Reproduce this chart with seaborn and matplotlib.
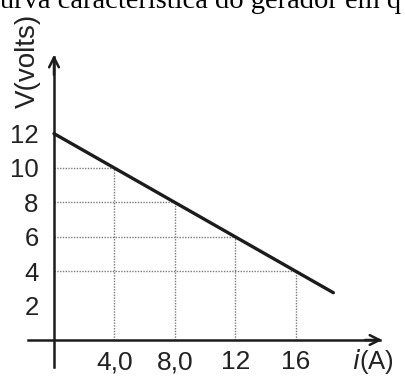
import matplotlib
matplotlib.use("Agg")
import matplotlib.pyplot as plt
import seaborn as sns
import pandas as pd

# dados (curva característica do gerador)
corrente = [0, 4, 8, 12, 16, 18.5]       # i (A)
tensao = [12, 10, 8, 6, 4, 2.75]         # V (volts)
pontos_x = [4, 8, 12, 16]                # pontos marcados com linha pontilhada
pontos_y = [10, 8, 6, 4]
ticks_y = [2, 4, 6, 8, 10, 12]
ticks_x = [4, 8, 12, 16]
rotulos_x = ["4,0", "8,0", "12", "16"]

sns.set_style("white")
plt.rcParams["font.family"] = ["Liberation Sans", "DejaVu Sans"]

W, H = 406, 376
fig = plt.figure(figsize=(W / 100, H / 100), dpi=100)
ax = fig.add_axes([0, 0, 1, 1])

# escala em pixels: origem em (54, 340), 15.1 px por A, 17.2 px por V
ox, oy, sx, sy = 54, 340, 15.1, 17.2
ax.set_xlim(-ox / sx, (W - ox) / sx)
ax.set_ylim((oy - H) / sy, oy / sy)

cor = "#1c1c1c"

# linhas pontilhadas até a reta
for px, py in zip(pontos_x, pontos_y):
    ax.plot([0, px], [py, py], ls=(0, (1, 1)), color="#7a7a7a", lw=1.0, zorder=1)
    ax.plot([px, px], [0, py], ls=(0, (1, 1)), color="#7a7a7a", lw=1.0, zorder=1)

df = pd.DataFrame({"i": corrente, "V": tensao})
sns.lineplot(data=df, x="i", y="V", color=cor, lw=2.4, ax=ax, zorder=3)

# eixos com setas
for s in ["top", "right"]:
    ax.spines[s].set_visible(False)
ax.spines["left"].set_position(("data", 0))
ax.spines["bottom"].set_position(("data", 0))
x_fim, y_fim = (385 - ox) / sx, (oy - 52) / sy
ax.spines["bottom"].set_bounds((28 - ox) / sx, x_fim - 0.3)
ax.spines["left"].set_bounds((oy - 367) / sy, y_fim - 0.3)
for s in ["left", "bottom"]:
    ax.spines[s].set_color(cor)
    ax.spines[s].set_linewidth(1.8)
ax.annotate("", xy=(x_fim, 0), xytext=(x_fim - 1.5, 0),
            arrowprops=dict(arrowstyle="->,head_length=0.7,head_width=0.35", color=cor, lw=1.8))
ax.annotate("", xy=(0, y_fim), xytext=(0, y_fim - 1.5),
            arrowprops=dict(arrowstyle="->,head_length=0.7,head_width=0.35", color=cor, lw=1.8))

ax.set_xticks(ticks_x)
ax.set_xticklabels(rotulos_x)
ax.set_yticks(ticks_y)
ax.set_yticklabels([str(t) for t in ticks_y])
ax.tick_params(axis="both", direction="inout", length=13, width=1.5, color=cor, labelcolor="#222222")
ax.tick_params(axis="y", pad=4.5, labelsize=18.5)
ax.tick_params(axis="x", pad=1, labelsize=19)
ax.set_xlabel("")
ax.set_ylabel("")
ax.grid(False)

# rótulos dos eixos
fig.text(28 / W, 1 - 61 / H, "V(volts)", rotation=90, ha="center", va="center",
         fontsize=20, color="#222222")
fig.text(352 / W, 1 - 347 / H, r"$\mathit{i}$(A)", ha="left", va="top",
         fontsize=18.5, color="#222222")

# texto do enunciado, cortado no topo como na imagem original
fig.text(0, 1 - 8 / H, "urva característica do gerador em q", ha="left", va="baseline",
         fontsize=20.5, family="Liberation Serif", color="black")

fig.savefig("out.png", dpi=100)
